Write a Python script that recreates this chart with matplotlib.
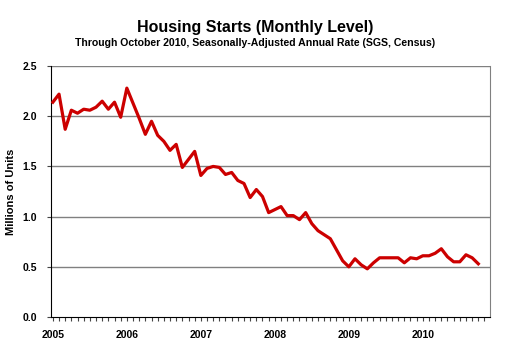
import numpy as np
import matplotlib
matplotlib.use("Agg")
import matplotlib.pyplot as plt
from matplotlib.ticker import MultipleLocator, FormatStrFormatter

# === 데이터 (Jan 2005 ~ Oct 2010, 백만 호, SAAR) ===
years = ["2005", "2006", "2007", "2008", "2009", "2010"]
starts_2005 = [2.14, 2.22, 1.87, 2.06, 2.03, 2.07, 2.06, 2.09, 2.15, 2.07, 2.14, 1.99]
starts_2006 = [2.28, 2.13, 1.98, 1.82, 1.95, 1.81, 1.75, 1.66, 1.72, 1.49, 1.57, 1.65]
starts_2007 = [1.41, 1.48, 1.50, 1.49, 1.42, 1.44, 1.36, 1.33, 1.19, 1.27, 1.20, 1.04]
starts_2008 = [1.07, 1.10, 1.01, 1.01, 0.97, 1.04, 0.93, 0.86, 0.82, 0.78, 0.67, 0.56]
starts_2009 = [0.50, 0.58, 0.52, 0.48, 0.54, 0.59, 0.59, 0.59, 0.59, 0.54, 0.59, 0.58]
starts_2010 = [0.61, 0.61, 0.635, 0.68, 0.60, 0.55, 0.55, 0.62, 0.59, 0.53]

starts = starts_2005 + starts_2006 + starts_2007 + starts_2008 + starts_2009 + starts_2010
months = np.arange(len(starts))

plt.rcParams['font.family'] = ['Liberation Sans', 'DejaVu Sans']

fig = plt.figure(figsize=(5.08, 3.57), dpi=100)
ax = fig.add_axes([0.1004, 0.112, 0.8642, 0.703])

# 그리드 라인
for v in [0.5, 1.0, 1.5, 2.0, 2.5]:
    ax.axhline(v, color='#808080', lw=1.0, zorder=1)

ax.plot(months, starts, color='#CC0000', lw=2.3, zorder=3, solid_joinstyle='round')

ax.set_xlim(-0.3, 70.9)
ax.set_ylim(0, 2.5)
ax.yaxis.set_major_locator(MultipleLocator(0.5))
ax.yaxis.set_major_formatter(FormatStrFormatter('%.1f'))
ax.set_xticks(np.arange(0, 61, 12))
ax.set_xticklabels(years)
ax.xaxis.set_minor_locator(MultipleLocator(1))

ax.tick_params(axis='x', which='both', direction='out', length=3, width=0.8,
               colors='#444444', labelcolor='black', labelsize=7.5, pad=6)
ax.tick_params(axis='y', direction='out', length=3, width=0.8,
               colors='#444444', labelcolor='black', labelsize=7.5, pad=7)
for lab in ax.get_xticklabels() + ax.get_yticklabels():
    lab.set_fontweight('bold')

ax.spines['left'].set_color('black')
ax.spines['bottom'].set_color('black')
ax.spines['right'].set_color('#808080')
ax.spines['top'].set_visible(False)

ax.set_ylabel("Millions of Units", fontsize=8, fontweight='bold', labelpad=5)

fig.text(0.502, 0.924, "Housing Starts (Monthly Level)", ha='center', va='center',
         fontsize=11.5, fontweight='bold')
fig.text(0.502, 0.879, "Through October 2010, Seasonally-Adjusted Annual Rate (SGS, Census)",
         ha='center', va='center', fontsize=7.6, fontweight='bold')

fig.savefig("out.png", dpi=100)
